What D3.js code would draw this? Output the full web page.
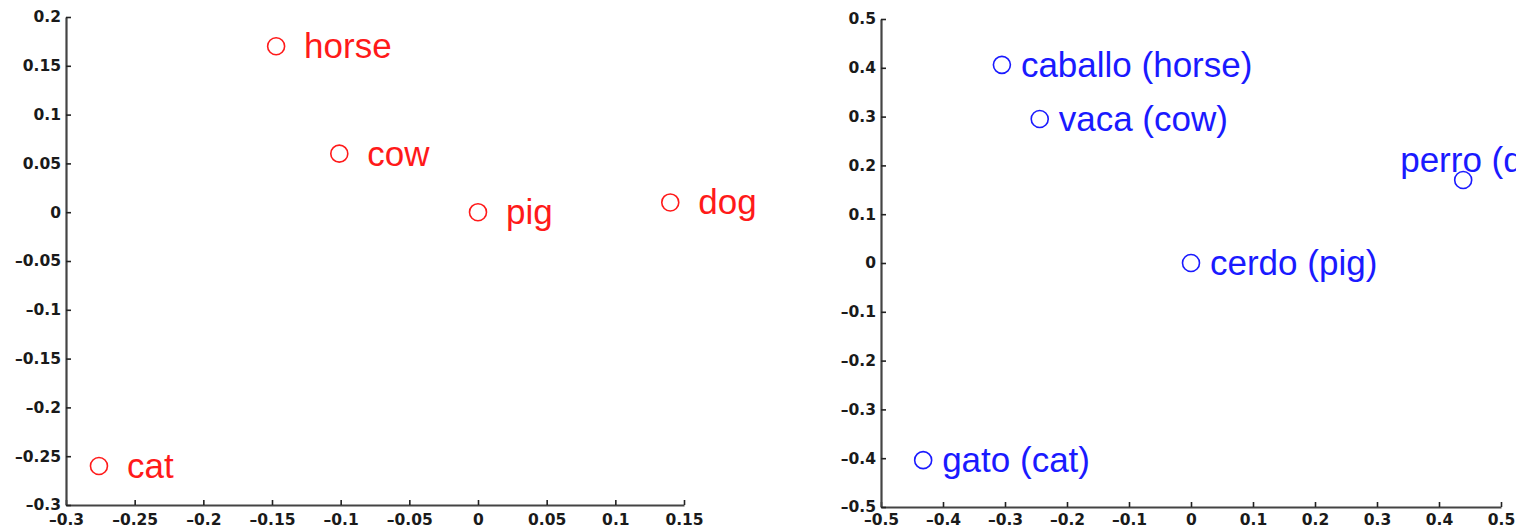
<!DOCTYPE html>
<html>
<head>
<meta charset="utf-8">
<script src="https://cdn.jsdelivr.net/npm/d3@7"></script>
<style>
  html, body { margin: 0; padding: 0; background: #fff; overflow: hidden; }
  svg { display: block; }
</style>
</head>
<body>
<script>
// ---- Data ----
const enWords = ["horse", "cow", "pig", "dog", "cat"];
const enX = [-0.147, -0.101, 0.0, 0.14, -0.276];
const enY = [0.17, 0.06, 0.0, 0.01, -0.26];

const esWords = ["caballo (horse)", "vaca (cow)", "perro (dog)", "cerdo (pig)", "gato (cat)"];
const esX = [-0.305, -0.244, 0.439, 0.0, -0.432];
const esY = [0.406, 0.295, 0.17, 0.0, -0.404];

const leftXTicks = [-0.3, -0.25, -0.2, -0.15, -0.1, -0.05, 0, 0.05, 0.1, 0.15];
const leftYTicks = [-0.3, -0.25, -0.2, -0.15, -0.1, -0.05, 0, 0.05, 0.1, 0.15, 0.2];
const rightXTicks = [-0.5, -0.4, -0.3, -0.2, -0.1, 0, 0.1, 0.2, 0.3, 0.4, 0.5];
const rightYTicks = [-0.5, -0.4, -0.3, -0.2, -0.1, 0, 0.1, 0.2, 0.3, 0.4, 0.5];

// ---- Layout ----
const W = 1516, H = 531;
const svg = d3.select("body").append("svg").attr("width", W).attr("height", H);

const fmt = d => String(+(+d).toFixed(2)).replace("-", "\u2013");

function panel(cfg) {
  const x = d3.scaleLinear().domain(cfg.xDomain).range(cfg.xRange);
  const y = d3.scaleLinear().domain(cfg.yDomain).range(cfg.yRange);
  const g = svg.append("g");

  const xAxis = d3.axisBottom(x).tickValues(cfg.xTicks).tickFormat(fmt)
    .tickSizeInner(-5).tickSizeOuter(0).tickPadding(cfg.xPad);
  const yAxis = d3.axisLeft(y).tickValues(cfg.yTicks).tickFormat(fmt)
    .tickSizeInner(-5).tickSizeOuter(0).tickPadding(5);

  const gx = g.append("g").attr("transform", `translate(0,${cfg.yRange[0]})`).call(xAxis);
  const gy = g.append("g").attr("transform", `translate(${cfg.xRange[0]},0)`).call(yAxis);

  [gx, gy].forEach(a => {
    a.select(".domain").attr("stroke", "#444").attr("stroke-width", 2.2);
    a.selectAll(".tick line").attr("stroke", "#222").attr("stroke-width", 1.6);
    a.selectAll(".tick text")
      .attr("fill", "#1a1a1a")
      .style("font-family", "'DejaVu Sans', sans-serif")
      .style("font-weight", "bold")
      .style("font-size", "15.5px");
  });
  gx.selectAll(".tick text").attr("dy", "0.68em");

  const pts = cfg.words.map((w, i) => ({ w, x: cfg.xs[i], y: cfg.ys[i] }));

  g.selectAll("circle.pt").data(pts).join("circle")
    .attr("class", "pt")
    .attr("cx", d => x(d.x)).attr("cy", d => y(d.y))
    .attr("r", 8.5)
    .attr("fill", "none")
    .attr("stroke", cfg.color)
    .attr("stroke-width", 1.6);

  g.selectAll("text.lbl").data(pts).join("text")
    .attr("class", "lbl")
    .attr("x", d => x(d.x) + cfg.labelDx(d))
    .attr("y", d => y(d.y) + cfg.labelDy(d))
    .attr("fill", cfg.color)
    .style("font-family", "'Liberation Sans', Arial, sans-serif")
    .style("font-size", "35px")
    .text(d => d.w);
}

panel({
  words: enWords, xs: enX, ys: enY, color: "#ff1a1a",
  xDomain: [-0.3, 0.15], xRange: [66, 684],
  yDomain: [-0.3, 0.2], yRange: [505, 17],
  xTicks: leftXTicks, yTicks: leftYTicks, xPad: 9,
  labelDx: () => 28, labelDy: () => 12
});

panel({
  words: esWords, xs: esX, ys: esY, color: "#1a1aff",
  xDomain: [-0.5, 0.5], xRange: [881, 1501],
  yDomain: [-0.5, 0.5], yRange: [507, 19],
  xTicks: rightXTicks, yTicks: rightYTicks, xPad: 7,
  labelDx: d => d.w.startsWith("perro") ? -63 : 19,
  labelDy: d => d.w.startsWith("perro") ? -8 : 12
});
</script>
</body>
</html>
